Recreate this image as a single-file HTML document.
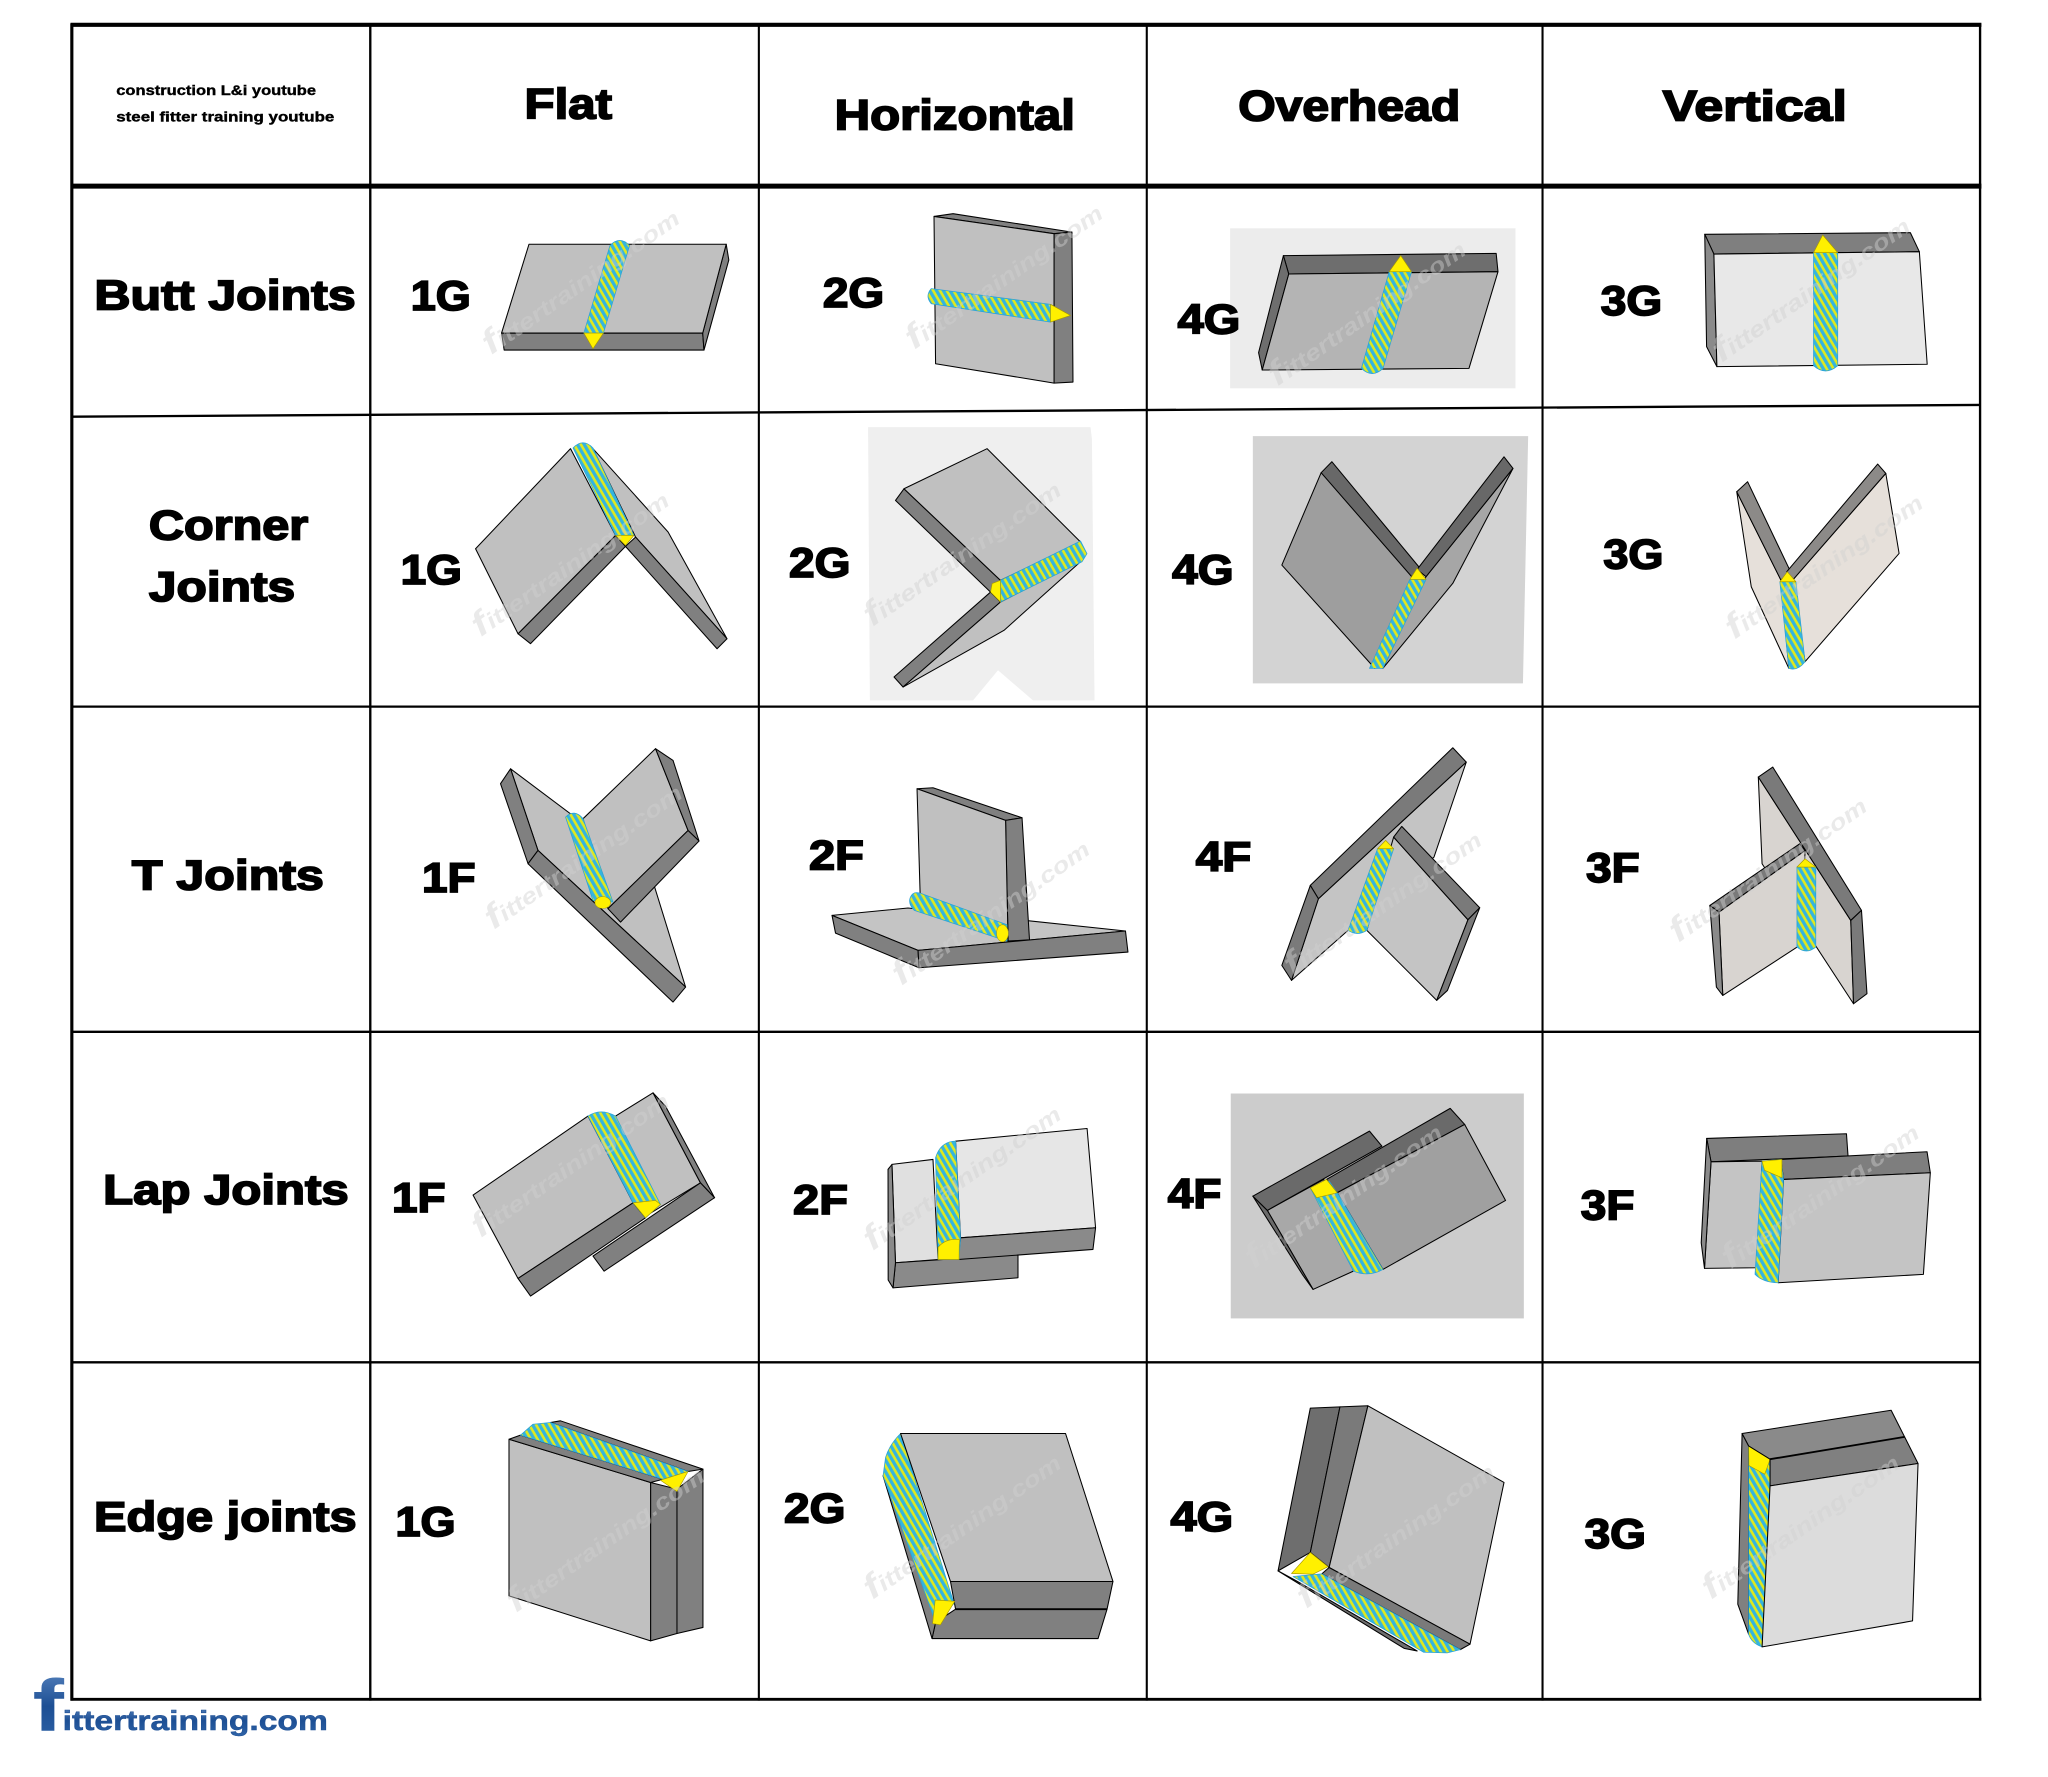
<!DOCTYPE html>
<html><head><meta charset="utf-8"><style>html,body{margin:0;padding:0;background:#fff}svg{display:block}</style></head>
<body>
<svg width="2048" height="1777" viewBox="0 0 1568 1360.5" xmlns="http://www.w3.org/2000/svg">
<defs>
<pattern id="wp" width="4.5" height="4.5" patternUnits="userSpaceOnUse" patternTransform="rotate(60)">
<rect width="4.5" height="4.5" fill="#34b4e0"/>
<rect width="4.5" height="2" fill="#dfe81e"/>
</pattern>
<linearGradient id="lg" x1="0" y1="0" x2="0" y2="1"><stop offset="0" stop-color="#5a86c0"/><stop offset="0.5" stop-color="#1d4f94"/><stop offset="1" stop-color="#2f64a8"/></linearGradient>
<style>
.s polygon,.s path{stroke:#000;stroke-width:0.8;stroke-linejoin:round}
.L{fill:#c0c0c0}.D{fill:#808080}.E{fill:#e8e8e8}.B{fill:#e6e0da}.G{fill:#8c8a88}
.s .W{fill:url(#wp);stroke:#2ba3d6;stroke-width:0.6}
.s .Y{fill:#fff000;stroke:#a89a00;stroke-width:0.5}
.t{font-family:"Liberation Sans",Arial,sans-serif;font-weight:bold;fill:#000;stroke:#000;stroke-width:1.3}
.wm{font-family:"Liberation Sans",Arial,sans-serif;font-weight:bold;font-style:italic;fill:#d0d0d0;opacity:0.45}
.ln{stroke:#000;fill:none}
</style>
</defs>
<rect width="1568" height="1360.5" fill="#fff"/>

<rect x="941.8" y="174.8" width="218.5" height="122.5" fill="#ececec"/>
<polygon points="664.6,327 834.9,327 836,336 838,536.2 790.9,536.2 764.1,513.2 745,536.2 666,536.2" fill="#efefef"/>
<polygon points="959.2,333.9 1170,333.9 1166,523.2 959.2,523.2" fill="#d3d3d3"/>
<rect x="942.3" y="837.2" width="224.4" height="172.2" fill="#cccccc"/>

<g class="s">
<polygon class="D" points="384,255 538,255 539,268 386,268"/>
<polygon class="D" points="556,187 558,199 539,268 538,255"/>
<polygon class="L" points="405,187 556,187 538,255 384,255"/>
<path class="W" d="M467,188 Q474.5,180 482,188 L462,255 L447,255 Z"/>
<polygon class="Y" points="447,255 462,255 454,267"/>

<polygon class="D" points="715.1,165.7 729.7,163.6 820.7,177.7 807,178.9"/>
<polygon class="D" points="807,178.9 820.7,177.7 821.5,292.5 807,293.3"/>
<polygon class="L" points="715.1,165.7 807,178.9 807,293.3 716.3,278.5"/>
<path class="W" d="M713,221 L804.3,233 L804.3,246.6 L713,232.5 Q708,226.7 713,221 Z"/>
<polygon class="Y" points="804.3,233 819.6,241.5 804.3,246.6"/>

<polygon fill="#6e6e6e" points="982.6,195.7 1145.5,194 1146.9,208 986.7,209.8"/>
<polygon fill="#6e6e6e" points="982.6,195.7 986.7,209.8 966.4,283.3 963.6,270"/>
<polygon fill="#b4b4b4" points="986.7,209.8 1146.9,208 1124.7,282 966.4,283.3"/>
<path class="W" d="M1063.6,208 L1080.7,208 L1058.9,282 Q1050.6,290 1042.3,282 Z"/>
<polygon class="Y" points="1063.6,208 1080.7,208 1072.4,195.7"/>

<polygon fill="#7f7f7f" points="1305.2,179.4 1462.6,178.1 1469.5,192.7 1312.2,194.5"/>
<polygon fill="#8a8a8a" points="1305.2,179.4 1312.2,194.5 1314.5,280.7 1306.6,265.4"/>
<polygon class="E" points="1312.2,194.5 1469.5,192.7 1475.5,278.9 1314.5,280.7"/>
<path class="W" d="M1388.5,193.4 L1407,193.4 L1407,280 Q1397.7,288 1388.5,280 Z"/>
<polygon class="Y" points="1388.5,193.4 1407,193.4 1395.5,179.9"/>

<polygon class="L" points="454,343.5 511.5,407.3 556.6,489 486.6,411.2"/>
<polygon class="D" points="486.6,411.2 556.6,489 549,496.7 478.9,418.3"/>
<polygon class="D" points="471.3,409.9 478.9,418.3 406.2,492.8 396.6,485.2"/>
<polygon class="L" points="436.8,343.5 471.3,409.9 396.6,485.2 364.1,420.1"/>
<path class="W" d="M438.7,343 Q446.3,335 454,343 L485.4,409.9 L471.3,409.9 Z"/>
<polygon class="Y" points="471.3,409.9 485.4,409.9 478.9,417.6"/>

<polygon class="D" points="692.1,374.2 685.6,383.1 758.4,453.3 766,444.3"/>
<polygon class="L" points="692.1,374.2 755.7,343.5 827.3,415 766,444.3"/>
<polygon class="D" points="758.4,453.3 766,460.9 691.4,526 684.5,518.3"/>
<polygon class="L" points="766,460.9 828.4,429 768.7,482.6 691.4,526"/>
<polygon class="W" points="766,444.3 827.3,414.2 832.2,423.9 828.4,430.1 766,460.9"/>
<polygon class="Y" points="759.6,446.8 766,444.3 766,460.9 758.4,453.3"/>

<polygon fill="#a6a6a6" points="1158.4,358.6 1112.3,446.6 1058.8,511.7 1091.8,441.5"/>
<polygon fill="#9e9e9e" points="1011.5,361.9 1083.5,436.4 1052.6,511.7 981.4,432.6"/>
<polygon fill="#686868" points="1011.5,361.9 1019.7,353.5 1088,436 1083,444"/>
<polygon fill="#686868" points="1151.5,349.7 1158.4,358.6 1091.8,441.5 1085,436"/>
<polygon class="W" points="1079.4,443.6 1091.8,443.6 1058.8,511.7 1048.5,511.7"/>
<polygon class="Y" points="1079.4,443.6 1091.8,443.6 1085,435"/>

<polygon class="B" points="1443.8,362.4 1454,423.7 1382,506.6 1372.5,444.1"/>
<polygon class="B" points="1329.7,376.5 1363.5,444.1 1369.6,511.7 1340.8,449.2"/>
<polygon class="G" points="1329.7,376.5 1338,368.8 1370.9,437.7 1363.5,444.1"/>
<polygon class="G" points="1437.6,355.3 1443.8,362.4 1372.5,444.1 1368,437.7"/>
<path class="W" d="M1362.7,445.4 L1375,445.4 L1382,506.6 Q1376,514 1369.6,511.7 Z"/>
<polygon class="Y" points="1362.7,445.4 1375,445.4 1368.4,437.7"/>

<polygon class="L" points="390.9,588.6 498.1,669.1 524.9,755.7 411.9,651.1"/>
<polygon class="D" points="383.2,600 390.9,588.6 411.9,651.1 404.3,661.3"/>
<polygon class="D" points="404.3,661.3 411.9,651.1 524.9,755.7 515.3,767.2"/>
<polygon class="L" points="446.4,626.8 501.9,573.2 526.8,635.8 465.5,695.7"/>
<polygon class="D" points="501.9,573.2 515.3,582.2 535.2,643.9 526.8,635.8"/>
<polygon class="D" points="526.8,635.8 535.2,643.9 475.1,706 465.5,695.7"/>
<path class="W" d="M433,625.6 Q439.7,619 446.4,626.8 L469.3,690.6 L454,689.4 Z"/>
<ellipse cx="461.5" cy="691" rx="6" ry="4.5" fill="#fff000" stroke="#a89a00" stroke-width="0.4"/>

<polygon fill="#c4c4c4" points="637,700.8 695.2,695.2 861.7,712.8 702.9,727.6"/>
<polygon class="D" points="637,700.8 702.9,727.6 703.6,740.9 639.7,714.4"/>
<polygon class="D" points="702.9,727.6 861.7,712.8 863.6,728.9 703.6,740.9"/>
<polygon class="D" points="702.1,603.9 714.3,603.1 782.5,626.1 769.9,628.1"/>
<polygon class="D" points="769.9,628.1 782.5,626.1 788.2,719.5 771.8,720.5"/>
<polygon class="L" points="702.1,603.9 769.9,628.1 771.8,720.5 704.8,695.7"/>
<path class="W" d="M697,687 Q699,682 705,684 L771,708 L771,720.5 L700,697 Q695,692 697,687 Z"/>
<ellipse cx="767.5" cy="714.5" rx="4.5" ry="6.5" fill="#fff000" stroke="#a89a00" stroke-width="0.4"/>

<polygon fill="#c4c4c4" points="1009.4,688.1 1122.6,583.5 1097.9,656.2 1032.1,712.3 988.8,750.6"/>
<polygon fill="#7a7a7a" points="1003.2,677.9 1112.3,572.5 1122.6,583.5 1009.4,688.1"/>
<polygon fill="#7a7a7a" points="981.4,739.1 1003.2,677.9 1009.4,688.1 988.8,750.6"/>
<polygon fill="#c4c4c4" points="1067,640.9 1123.9,704.2 1100,765.9 1046.5,712.3"/>
<polygon fill="#7a7a7a" points="1067,640.9 1073.2,632.7 1132.9,695 1123.9,704.2"/>
<polygon fill="#7a7a7a" points="1123.9,704.2 1132.9,695 1108.2,758.3 1100,765.9"/>
<path class="W" d="M1054.7,649.8 L1067,649.8 L1046.5,712.3 Q1039,717 1032.1,712.3 Z"/>
<polygon class="Y" points="1054.7,649.8 1067,649.8 1060.9,643.4"/>

<polygon fill="#d8d4d0" points="1346.2,594.9 1417,704.7 1419.1,768.5 1349.1,661.3"/>
<polygon fill="#7a7a7a" points="1346.2,594.9 1357.3,587.3 1425.2,697 1417,704.7"/>
<polygon fill="#7a7a7a" points="1417,704.7 1425.2,697 1429.4,760.8 1419.1,768.5"/>
<polygon fill="#d8d4d0" points="1316.1,698.3 1382,651.1 1379.9,722.5 1319,762.1"/>
<polygon fill="#7a7a7a" points="1309.1,693.2 1377.9,646 1382,651.1 1316.1,698.3"/>
<polygon fill="#8a8a8a" points="1309.1,693.2 1316.1,698.3 1319,762.1 1314.1,755.7"/>
<path class="W" d="M1375.8,663.8 L1390.2,663.8 L1390.2,725.1 Q1383,731 1375.8,725.1 Z"/>
<polygon class="Y" points="1375.8,663.8 1390.2,663.8 1382,657.5"/>

<polygon class="L" points="471.3,854.5 500,836.7 536.3,905.6 494.2,931.1"/>
<polygon class="D" points="500,836.7 509.5,846.9 547.1,917 536.3,905.6"/>
<polygon class="D" points="454,961.7 536.3,905.6 547.1,917 462.5,973.2"/>
<polygon class="L" points="362.2,915 450.2,854.5 484.7,920.9 396.6,978.8"/>
<polygon class="D" points="396.6,978.8 484.7,920.9 494.2,932.4 406.2,992.3"/>
<path class="W" d="M450.2,854.5 Q460,848 471.3,854.5 L505.7,922.1 L494.2,932.4 L484.7,920.9 Z"/>
<polygon class="Y" points="484.7,920.9 501.9,919.1 505.7,922.1 494.2,932.4"/>

<polygon fill="#e0e0e0" points="682.9,891.5 714.3,887.7 718.2,964.3 685.6,966.8"/>
<polygon fill="#8a8a8a" points="685.6,966.8 779.4,960.4 779.4,978.3 683.7,986"/>
<polygon fill="#8a8a8a" points="679.9,895.3 682.9,891.5 685.6,966.8 683.7,986 680,980"/>
<polygon fill="#e6e6e6" points="731.6,873.7 832.3,864 838.8,940 735.4,947.7"/>
<polygon fill="#8a8a8a" points="735.4,947.7 838.8,940 836.8,956.6 733.5,964.3"/>
<path class="W" d="M716.3,886.4 Q720,874 731.6,873.7 L735.4,947.7 L734.3,964.3 L718.2,964.3 Z"/>
<path class="Y" d="M718.2,955 Q724,948 734.5,949 L734.3,964.3 L718.2,964.3 Z"/>

<polygon fill="#a8a8a8" points="970.3,926.7 1013.5,903 1036.2,973.2 1005.3,987.2"/>
<polygon fill="#6a6a6a" points="959.2,915.8 970.3,926.7 1005.3,987.2 997.1,975.7"/>
<polygon fill="#6a6a6a" points="959.2,915.8 1048.5,866 1058,877.5 970.3,926.7"/>
<polygon fill="#6a6a6a" points="1015.6,903 1110.3,848.6 1121.4,860.9 1023.8,913.2"/>
<polygon fill="#a0a0a0" points="1023.8,913.2 1121.4,860.9 1152.7,919.1 1058.8,971.9"/>
<path class="W" d="M1003.2,909.4 L1017.6,904.3 L1023.8,913.2 L1058.8,971.9 Q1048,978 1036.2,973.2 Z"/>
<polygon class="Y" points="1003.2,909.4 1015.6,903 1023.8,913.2 1008,917"/>

<polygon fill="#7e7e7e" points="1306.7,871.6 1413.7,868 1414.9,885.1 1310,889.5"/>
<polygon fill="#c4c4c4" points="1310,889.5 1349.1,889 1345,970.6 1305,971.1"/>
<polygon fill="#8a8a8a" points="1306.7,871.6 1310,889.5 1305,971.1 1302.5,951.5"/>
<polygon fill="#7e7e7e" points="1363.5,887.7 1475.4,881.8 1477.9,897.9 1365.5,903"/>
<polygon fill="#c4c4c4" points="1365.5,903 1477.9,897.9 1472.6,975.7 1361.4,982.1"/>
<path class="W" d="M1349.1,889 L1363.5,887.7 L1365.5,903 L1361.4,982.1 Q1350,982 1343.7,975.7 Z"/>
<polygon class="Y" points="1349.1,889 1364.3,887.7 1364.3,901.7 1351,896"/>

<polygon class="D" points="518.3,1140.1 538.2,1124.8 538.2,1246 518.3,1250.6"/>
<polygon class="D" points="421.5,1089.1 429.1,1087.8 538.2,1124.8 526.8,1126.6"/>
<polygon class="D" points="498.1,1135 518.3,1140.1 518.3,1250.6 498.1,1256.3"/>
<polygon class="L" points="389.7,1101.9 498.1,1135 498.1,1256.3 389.7,1221.8"/>
<polygon class="D" points="389.7,1101.9 398.5,1098.8 507.6,1132.5 498.1,1135"/>
<polygon class="W" points="398.5,1098.8 408.1,1090.4 421.5,1089.1 526.8,1126.6 507.6,1132.5"/>
<polygon class="Y" points="505.7,1133.3 526.8,1126.6 518.3,1141.9"/>

<polygon class="D" points="731.6,1232 847.6,1232 840.7,1254.5 713.6,1254.5 716.3,1242.2"/>
<polygon class="D" points="727.7,1210.8 852.1,1210.8 847.6,1232 731.6,1232"/>
<polygon class="D" points="676.1,1129.9 680,1122 716.3,1242.2 713.6,1254.5"/>
<path class="W" d="M678,1115.9 Q681,1106 689.5,1097.5 L730.4,1227.7 L716.3,1242.2 L676.1,1129.9 Z"/>
<polygon class="L" points="689.5,1097.5 815.8,1097.5 852.1,1210.8 727.7,1210.8"/>
<polygon class="Y" points="716,1225 731,1226 720,1244 714,1243"/>
<line x1="731.6" y1="1232" x2="847.6" y2="1232" stroke="#000" stroke-width="1.4"/>

<polygon fill="#6e6e6e" points="1003.2,1078.1 1025.9,1077.1 1003.2,1188.6 978.5,1202.7"/>
<polygon fill="#7a7a7a" points="1025.9,1077.1 1047.3,1076.3 1017.6,1200.1 1003.2,1188.6"/>
<polygon class="L" points="1047.3,1076.3 1151.5,1135 1125.5,1258.8 1017.6,1200.1"/>
<polygon fill="#6e6e6e" points="978.5,1202.7 992,1210 1085,1264 1075,1262"/>
<polygon fill="#7a7a7a" points="1017.6,1200.1 1125.5,1258.8 1118,1263 1012,1205"/>
<polygon class="W" points="990,1207 1012,1205 1118,1263 1108,1265.5 1090,1265"/>
<polygon class="Y" points="988.8,1204.7 1003.2,1188.6 1016.8,1199.5 1005.3,1205.2"/>

<polygon class="D" points="1333.8,1097.5 1338.8,1107 1338.8,1251.2 1330.5,1228.2"/>
<path class="W" d="M1338.8,1107 L1355.2,1117.2 L1355.2,1137.6 L1349.1,1260.9 Q1341,1258 1338.8,1251.2 Z"/>
<polygon class="Y" points="1338.8,1107 1355.2,1117.2 1351.1,1128.7 1339,1122"/>
<polygon fill="#8a8a8a" points="1333.8,1097.5 1447.9,1079.7 1458.2,1100.1 1355.2,1117.2 1338.8,1107"/>
<polygon fill="#808080" points="1355.2,1117.2 1458.2,1100.1 1468.5,1120.5 1355.2,1137.6"/>
<line x1="1355.2" y1="1117.2" x2="1458.2" y2="1100.1" stroke="#000" stroke-width="1.4"/>
<polygon fill="#dcdcdc" points="1355.2,1137.6 1468.5,1120.5 1464.3,1241 1349.1,1260.9"/>
</g>

<g class="wm" font-size="17">
<text transform="translate(376,272) rotate(-35)" textLength="178" lengthAdjust="spacingAndGlyphs"><tspan font-size="26">f</tspan>ittertraining.com</text>
<text transform="translate(700,268) rotate(-35)" textLength="178" lengthAdjust="spacingAndGlyphs"><tspan font-size="26">f</tspan>ittertraining.com</text>
<text transform="translate(978,296) rotate(-35)" textLength="178" lengthAdjust="spacingAndGlyphs"><tspan font-size="26">f</tspan>ittertraining.com</text>
<text transform="translate(1318,278) rotate(-35)" textLength="178" lengthAdjust="spacingAndGlyphs"><tspan font-size="26">f</tspan>ittertraining.com</text>
<text transform="translate(368,488) rotate(-35)" textLength="178" lengthAdjust="spacingAndGlyphs"><tspan font-size="26">f</tspan>ittertraining.com</text>
<text transform="translate(668,480) rotate(-35)" textLength="178" lengthAdjust="spacingAndGlyphs"><tspan font-size="26">f</tspan>ittertraining.com</text>
<text transform="translate(1328,490) rotate(-35)" textLength="178" lengthAdjust="spacingAndGlyphs"><tspan font-size="26">f</tspan>ittertraining.com</text>
<text transform="translate(378,712) rotate(-35)" textLength="178" lengthAdjust="spacingAndGlyphs"><tspan font-size="26">f</tspan>ittertraining.com</text>
<text transform="translate(690,755) rotate(-35)" textLength="178" lengthAdjust="spacingAndGlyphs"><tspan font-size="26">f</tspan>ittertraining.com</text>
<text transform="translate(990,748) rotate(-35)" textLength="178" lengthAdjust="spacingAndGlyphs"><tspan font-size="26">f</tspan>ittertraining.com</text>
<text transform="translate(1285,722) rotate(-35)" textLength="178" lengthAdjust="spacingAndGlyphs"><tspan font-size="26">f</tspan>ittertraining.com</text>
<text transform="translate(368,948) rotate(-35)" textLength="178" lengthAdjust="spacingAndGlyphs"><tspan font-size="26">f</tspan>ittertraining.com</text>
<text transform="translate(668,958) rotate(-35)" textLength="178" lengthAdjust="spacingAndGlyphs"><tspan font-size="26">f</tspan>ittertraining.com</text>
<text transform="translate(960,972) rotate(-35)" textLength="178" lengthAdjust="spacingAndGlyphs"><tspan font-size="26">f</tspan>ittertraining.com</text>
<text transform="translate(1325,972) rotate(-35)" textLength="178" lengthAdjust="spacingAndGlyphs"><tspan font-size="26">f</tspan>ittertraining.com</text>
<text transform="translate(395,1235) rotate(-35)" textLength="178" lengthAdjust="spacingAndGlyphs"><tspan font-size="26">f</tspan>ittertraining.com</text>
<text transform="translate(668,1225) rotate(-35)" textLength="178" lengthAdjust="spacingAndGlyphs"><tspan font-size="26">f</tspan>ittertraining.com</text>
<text transform="translate(1000,1232) rotate(-35)" textLength="178" lengthAdjust="spacingAndGlyphs"><tspan font-size="26">f</tspan>ittertraining.com</text>
<text transform="translate(1310,1225) rotate(-35)" textLength="178" lengthAdjust="spacingAndGlyphs"><tspan font-size="26">f</tspan>ittertraining.com</text>
</g>

<g class="ln">
<line x1="54" y1="19" x2="1517" y2="19" stroke-width="3.2"/>
<line x1="54" y1="142.5" x2="1517" y2="142.5" stroke-width="3.8"/>
<line x1="55" y1="319" x2="1516" y2="310" stroke-width="1.8"/>
<line x1="55" y1="541" x2="1516" y2="541" stroke-width="1.8"/>
<line x1="55" y1="790" x2="1516" y2="790" stroke-width="1.8"/>
<line x1="55" y1="1043" x2="1516" y2="1043" stroke-width="1.8"/>
<line x1="54" y1="1301" x2="1517" y2="1301" stroke-width="2.2"/>
<line x1="55" y1="18" x2="55" y2="1302" stroke-width="2.4"/>
<line x1="283.5" y1="18" x2="283.5" y2="1302" stroke-width="1.8"/>
<line x1="581" y1="18" x2="581" y2="1302" stroke-width="1.6"/>
<line x1="878" y1="18" x2="878" y2="1302" stroke-width="1.6"/>
<line x1="1181" y1="18" x2="1181" y2="1302" stroke-width="1.6"/>
<line x1="1516" y1="18" x2="1516" y2="1302" stroke-width="1.8"/>
</g>

<g class="t">
<text x="89" y="72.7" font-size="10.5" stroke-width="0.3" textLength="153" lengthAdjust="spacingAndGlyphs">construction L&amp;i youtube</text>
<text x="89" y="93.2" font-size="10.5" stroke-width="0.3" textLength="167" lengthAdjust="spacingAndGlyphs">steel fitter training youtube</text>
<text x="401.6" y="90.6" font-size="32.5" textLength="67" lengthAdjust="spacingAndGlyphs">Flat</text>
<text x="639" y="99" font-size="32.5" textLength="184" lengthAdjust="spacingAndGlyphs">Horizontal</text>
<text x="948" y="92.4" font-size="32.5" textLength="170" lengthAdjust="spacingAndGlyphs">Overhead</text>
<text x="1273" y="92.4" font-size="32.5" textLength="141" lengthAdjust="spacingAndGlyphs">Vertical</text>

<text x="72.3" y="236.8" font-size="32" textLength="200" lengthAdjust="spacingAndGlyphs">Butt Joints</text>
<text x="114" y="413" font-size="32" textLength="122" lengthAdjust="spacingAndGlyphs">Corner</text>
<text x="114" y="460" font-size="32" textLength="112" lengthAdjust="spacingAndGlyphs">Joints</text>
<text x="101" y="681" font-size="32" textLength="147" lengthAdjust="spacingAndGlyphs">T Joints</text>
<text x="79" y="922" font-size="32" textLength="188" lengthAdjust="spacingAndGlyphs">Lap Joints</text>
<text x="72" y="1172" font-size="32" textLength="201" lengthAdjust="spacingAndGlyphs">Edge joints</text>

<g font-size="32">
<text x="314.5" y="237.4" textLength="46" lengthAdjust="spacingAndGlyphs">1G</text>
<text x="630" y="235" textLength="47" lengthAdjust="spacingAndGlyphs">2G</text>
<text x="901.6" y="255.2" textLength="48" lengthAdjust="spacingAndGlyphs">4G</text>
<text x="1225.6" y="241.2" textLength="47" lengthAdjust="spacingAndGlyphs">3G</text>

<text x="306.7" y="447" textLength="47" lengthAdjust="spacingAndGlyphs">1G</text>
<text x="604.1" y="441.8" textLength="47" lengthAdjust="spacingAndGlyphs">2G</text>
<text x="897.4" y="447.2" textLength="47" lengthAdjust="spacingAndGlyphs">4G</text>
<text x="1227.6" y="435.2" textLength="46" lengthAdjust="spacingAndGlyphs">3G</text>

<text x="323.1" y="683" textLength="41" lengthAdjust="spacingAndGlyphs">1F</text>
<text x="619.4" y="665.9" textLength="42" lengthAdjust="spacingAndGlyphs">2F</text>
<text x="915.5" y="666.9" textLength="42.5" lengthAdjust="spacingAndGlyphs">4F</text>
<text x="1214.4" y="675.3" textLength="41" lengthAdjust="spacingAndGlyphs">3F</text>

<text x="300.1" y="927.8" textLength="41" lengthAdjust="spacingAndGlyphs">1F</text>
<text x="607.2" y="929.3" textLength="42" lengthAdjust="spacingAndGlyphs">2F</text>
<text x="894.1" y="924.7" textLength="41" lengthAdjust="spacingAndGlyphs">4F</text>
<text x="1210.3" y="933.6" textLength="41" lengthAdjust="spacingAndGlyphs">3F</text>

<text x="302.8" y="1175.9" textLength="46" lengthAdjust="spacingAndGlyphs">1G</text>
<text x="600.3" y="1165.7" textLength="47" lengthAdjust="spacingAndGlyphs">2G</text>
<text x="896.2" y="1172.1" textLength="48" lengthAdjust="spacingAndGlyphs">4G</text>
<text x="1213.2" y="1185.3" textLength="47" lengthAdjust="spacingAndGlyphs">3G</text>
</g>
</g>

<text x="25" y="1325" font-family="'Liberation Sans',Arial,sans-serif" font-weight="bold" font-size="56" fill="url(#lg)" textLength="24" lengthAdjust="spacingAndGlyphs">f</text>
<text x="48" y="1324.6" font-family="'Liberation Sans',Arial,sans-serif" font-weight="bold" font-size="21" fill="url(#lg)" stroke="#1d4f94" stroke-width="0.4" textLength="203" lengthAdjust="spacingAndGlyphs">ittertraining.com</text>
</svg>
</body></html>
